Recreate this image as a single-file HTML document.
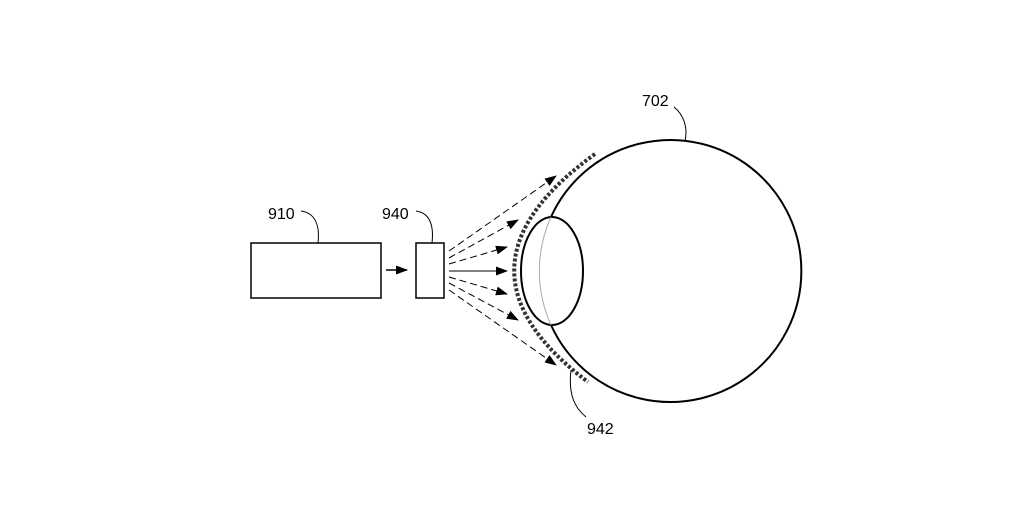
<!DOCTYPE html>
<html><head><style>html,body{margin:0;padding:0;background:#fff;}svg{display:block}</style></head>
<body>
<svg width="1020" height="514" viewBox="0 0 1020 514" xmlns="http://www.w3.org/2000/svg">
<defs>
<marker id="ah" markerWidth="12" markerHeight="9" refX="11" refY="4.5" orient="auto" markerUnits="userSpaceOnUse">
<path d="M0,0 L12,4.5 L0,9 Z" fill="#000"/>
</marker>
</defs>
<g fill="none" stroke="#000" stroke-width="1.5">
<rect x="251" y="243" width="130" height="55"/>
<rect x="416" y="243" width="28" height="55"/>
<line x1="386" y1="270" x2="407" y2="270" marker-end="url(#ah)"/>
<path d="M551,217 A131,131 0 1 1 551,325" stroke-width="2"/>
<ellipse cx="552" cy="271" rx="31" ry="54" stroke-width="2"/>
<path d="M551,217 A131,131 0 0 0 551,325" stroke="#aaa" stroke-width="1"/>
<path d="M595,154 Q437,268 588,382" stroke="#333" stroke-width="4" stroke-dasharray="3,2"/>
<g stroke-dasharray="7,4" stroke-width="1">
<line x1="449" y1="251" x2="556" y2="176" marker-end="url(#ah)"/>
<line x1="449" y1="258" x2="518" y2="220" marker-end="url(#ah)"/>
<line x1="449" y1="264" x2="507" y2="247" marker-end="url(#ah)"/>
<line x1="449" y1="277" x2="507" y2="294" marker-end="url(#ah)"/>
<line x1="449" y1="283" x2="518" y2="320" marker-end="url(#ah)"/>
<line x1="449" y1="290" x2="556" y2="365" marker-end="url(#ah)"/>
</g>
<line x1="449" y1="271" x2="507" y2="271" marker-end="url(#ah)" stroke-width="1"/>
<g stroke-width="1">
<path d="M301,211 C315,213 320,225 318,243"/>
<path d="M416,211 C430,213 434,225 432,243"/>
<path d="M674,107 C684,115 688,128 685,141"/>
<path d="M571,370 C568,395 575,408 586,417"/>
</g>
</g>
<g font-family="Liberation Sans, sans-serif" font-size="16" fill="#000">
<text x="268" y="219">910</text>
<text x="382" y="219">940</text>
<text x="642" y="106">702</text>
<text x="587" y="434">942</text>
</g>
</svg>
</body></html>
